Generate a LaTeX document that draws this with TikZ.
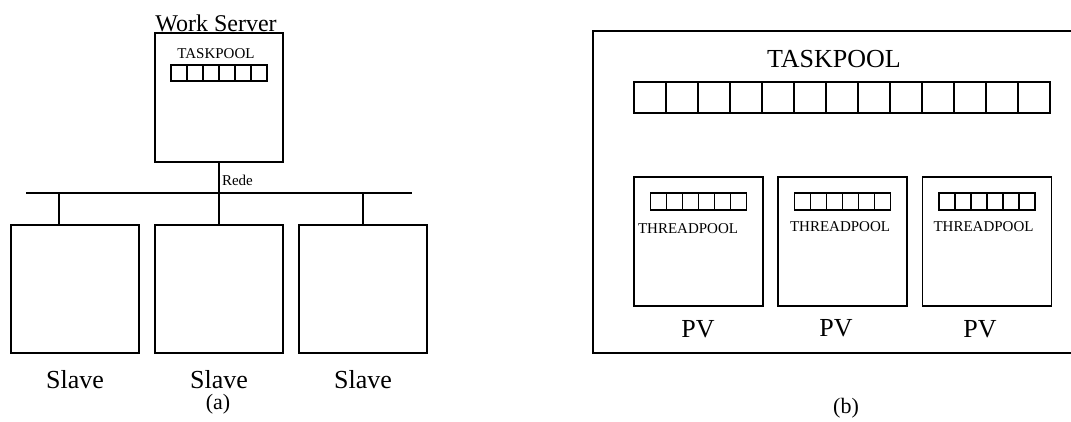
\documentclass[tikz,border=0pt]{standalone}
\usepackage{fontspec}
\setmainfont{Liberation Serif}
\usetikzlibrary{positioning,calc}

\begin{document}
\begin{tikzpicture}[
  x=1pt, y=-1pt,
  every node/.style={inner sep=0pt, outer sep=0pt},
  mbox/.style={rectangle, draw, line width=1.9pt,
               minimum width=128pt, minimum height=128pt},
  pvbox/.style={rectangle, draw, line width=1.9pt,
               minimum width=129pt, minimum height=129pt},
  scell/.style={rectangle, draw, line width=1.9pt,
               minimum width=16pt, minimum height=16pt},
  bcell/.style={rectangle, draw, line width=1.9pt,
               minimum width=32pt, minimum height=31pt},
  big/.style={font=\fontsize{26}{28}\selectfont, anchor=base},
  small/.style={font=\fontsize{15}{17}\selectfont, anchor=base},
  wire/.style={line width=1.9pt}
]
\useasboundingbox (0,0) rectangle (1071,421);

% (a) Work server and slaves
\node[mbox, minimum height=129pt] (server) at (219,97.5) {};
\node[font=\fontsize{24}{26}\selectfont, anchor=base] (srvlbl) at (216,31) {Work Server};
\node[small] (srvpool) at (216,58) {TASKPOOL};
\foreach \i in {0,...,5}
  \node[scell] (sc\i) at (179+16*\i,73) {};

\coordinate (netL) at (26,193);
\coordinate (netR) at (412,193);
\draw[wire] (netL) -- (netR);
\node[small, anchor=base west] (rede) at (222,185) {Rede};

\node[mbox] (slave1) at (75,289) {};
\node[mbox] (slave2) at (219,289) {};
\node[mbox] (slave3) at (363,289) {};
\node[big] (sl1) at (75,388) {Slave};
\node[big] (sl2) at (219,388) {Slave};
\node[big] (sl3) at (363,388) {Slave};

% Connections to the network
\draw[wire] (server.south) -- (server.south |- netL);
\draw[wire] ($(slave1.north)+(-16,0)$) -- ($(slave1.north |- netL)+(-16,0)$);
\draw[wire] (slave2.north) -- (slave2.north |- netL);
\draw[wire] (slave3.north) -- (slave3.north |- netL);

\node[font=\fontsize{22}{24}\selectfont, anchor=base] (capa) at (218,409) {(a)};

% (b) Shared memory machine
\draw[wire] (1080,31) -- (593,31) -- (593,353) -- (1080,353);
\node[big] (pool) at (834,67) {TASKPOOL};
\foreach \i in {0,...,12}
  \node[bcell] (bc\i) at (650+32*\i,97.5) {};

\foreach \n/\x/\dx/\ty in {1/698.5/4/233, 2/842.5/12/231, 3/987/11/231}{
  \node[pvbox] (pv\n) at (\x,241.5) {};
  \foreach \i in {0,...,5}
    \node[scell, minimum height=17pt] (pc\n\i) at ($(pv\n.north)+(-40+16*\i,24.5)$) {};
  \node[small, anchor=base west] (tp\n) at ($(pv\n.north west |- 0,\ty)+(\dx,0)$) {THREADPOOL};
}
\node[big] (pvl1) at (698,337) {PV};
\node[big] (pvl2) at (836,336) {PV};
\node[big] (pvl3) at (980,337) {PV};

\node[font=\fontsize{22}{24}\selectfont, anchor=base] (capb) at (846,413) {(b)};
\end{tikzpicture}
\end{document}
